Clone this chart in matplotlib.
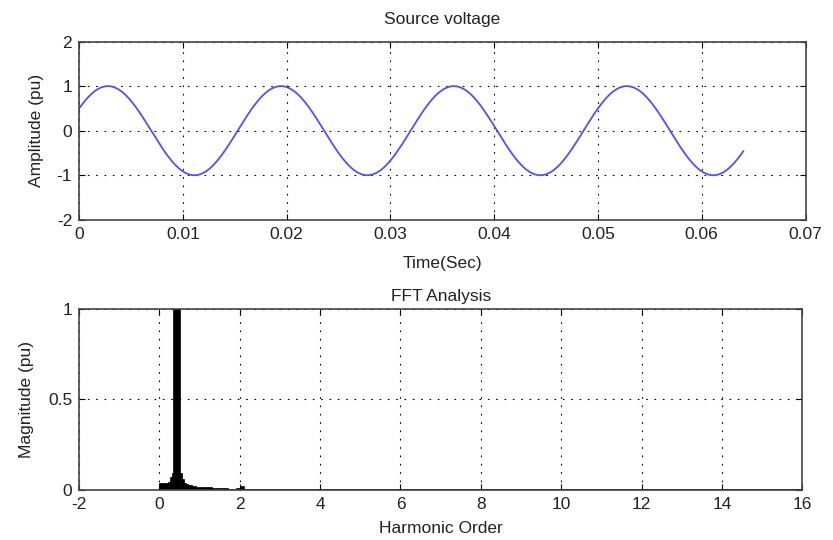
import numpy as np
import matplotlib.pyplot as plt

plt.rcParams['font.family'] = ['Liberation Sans', 'DejaVu Sans']
plt.rcParams['font.size'] = 12.5
plt.rcParams['axes.titlesize'] = 12.5
plt.rcParams['axes.unicode_minus'] = False
plt.rcParams['text.color'] = '#222222'
plt.rcParams['axes.labelcolor'] = '#222222'
plt.rcParams['xtick.labelcolor'] = '#222222'
plt.rcParams['ytick.labelcolor'] = '#222222'

# source voltage: 60 Hz, 1 pu, 30 deg phase, sampled up to 0.064 s
f_src = 60.0
amp_src = 1.0
phase_src = np.pi / 6
t_end = 0.064
n_samples = 800

# FFT magnitude (pu) vs harmonic order, fine bins near the fundamental
harm_fine = [0.0, 0.05, 0.1, 0.15, 0.2, 0.25, 0.3, 0.33, 0.5, 0.55,
             0.6, 0.65, 0.7, 0.75, 0.8, 0.9, 1.0, 1.1,
             1.2, 1.3, 1.4, 1.5, 1.6, 1.7, 1.8, 1.9, 2.0]
mag_fine = [0.035, 0.04, 0.04, 0.04, 0.045, 0.07, 0.09, 1.0, 0.09, 0.06,
            0.04, 0.03, 0.028, 0.025, 0.022, 0.018, 0.015, 0.014,
            0.013, 0.012, 0.011, 0.01, 0.008, 0.006, 0.006, 0.012, 0.02]
harm_tail = [2.5, 3.5, 4.5, 5.5, 6.5, 7.5, 8.5, 9.5, 10.5, 11.5, 12.5, 13.5, 14.5, 15.5]
mag_tail = [0.005, 0.005, 0.004, 0.004, 0.004, 0.004, 0.004, 0.004,
            0.004, 0.004, 0.004, 0.004, 0.004, 0.004]

t = np.linspace(0, t_end, n_samples)
v = amp_src * np.sin(2 * np.pi * f_src * t + phase_src)

fig = plt.figure(figsize=(8.33, 5.4), dpi=100)
ax1 = fig.add_axes([0.095, 0.593, 0.872, 0.33])
ax2 = fig.add_axes([0.095, 0.093, 0.868, 0.335])


def matlab_style(ax):
    ax.grid(True, color='black', linestyle=(0, (1.5, 6)), linewidth=0.8)
    ax.tick_params(direction='in', top=True, right=True, length=4, width=0.8, pad=5)
    for s in ax.spines.values():
        s.set_linewidth(1.2)
        s.set_color('#444444')


ax1.plot(t, v, color='#5050ff', linewidth=1.3)
ax1.set_xlim(0, 0.07)
ax1.set_ylim(-2, 2)
ax1.set_xticks(np.arange(0, 0.071, 0.01))
ax1.set_xticklabels(['0', '0.01', '0.02', '0.03', '0.04', '0.05', '0.06', '0.07'])
ax1.set_yticks([-2, -1, 0, 1, 2])
ax1.set_title('Source voltage', pad=13)
ax1.set_xlabel('Time(Sec)', labelpad=10)
ax1.set_ylabel('Amplitude (pu)', labelpad=9)
matlab_style(ax1)

widths_fine = np.diff(harm_fine + [2.1])
ax2.bar(harm_fine, mag_fine, width=widths_fine, align='edge', color='black', edgecolor='black', linewidth=0.5)
ax2.bar(harm_tail, mag_tail, width=1.0, color='black', linewidth=0)
ax2.set_xlim(-2, 16)
ax2.set_ylim(0, 1)
ax2.set_xticks(np.arange(-2, 17, 2))
ax2.set_yticks([0, 0.5, 1])
ax2.set_yticklabels(['0', '0.5', '1'])
ax2.set_title('FFT Analysis', pad=6)
ax2.set_xlabel('Harmonic Order', labelpad=7)
ax2.set_ylabel('Magnitude (pu)', labelpad=10)
matlab_style(ax2)

fig.savefig('out.png', dpi=100)
